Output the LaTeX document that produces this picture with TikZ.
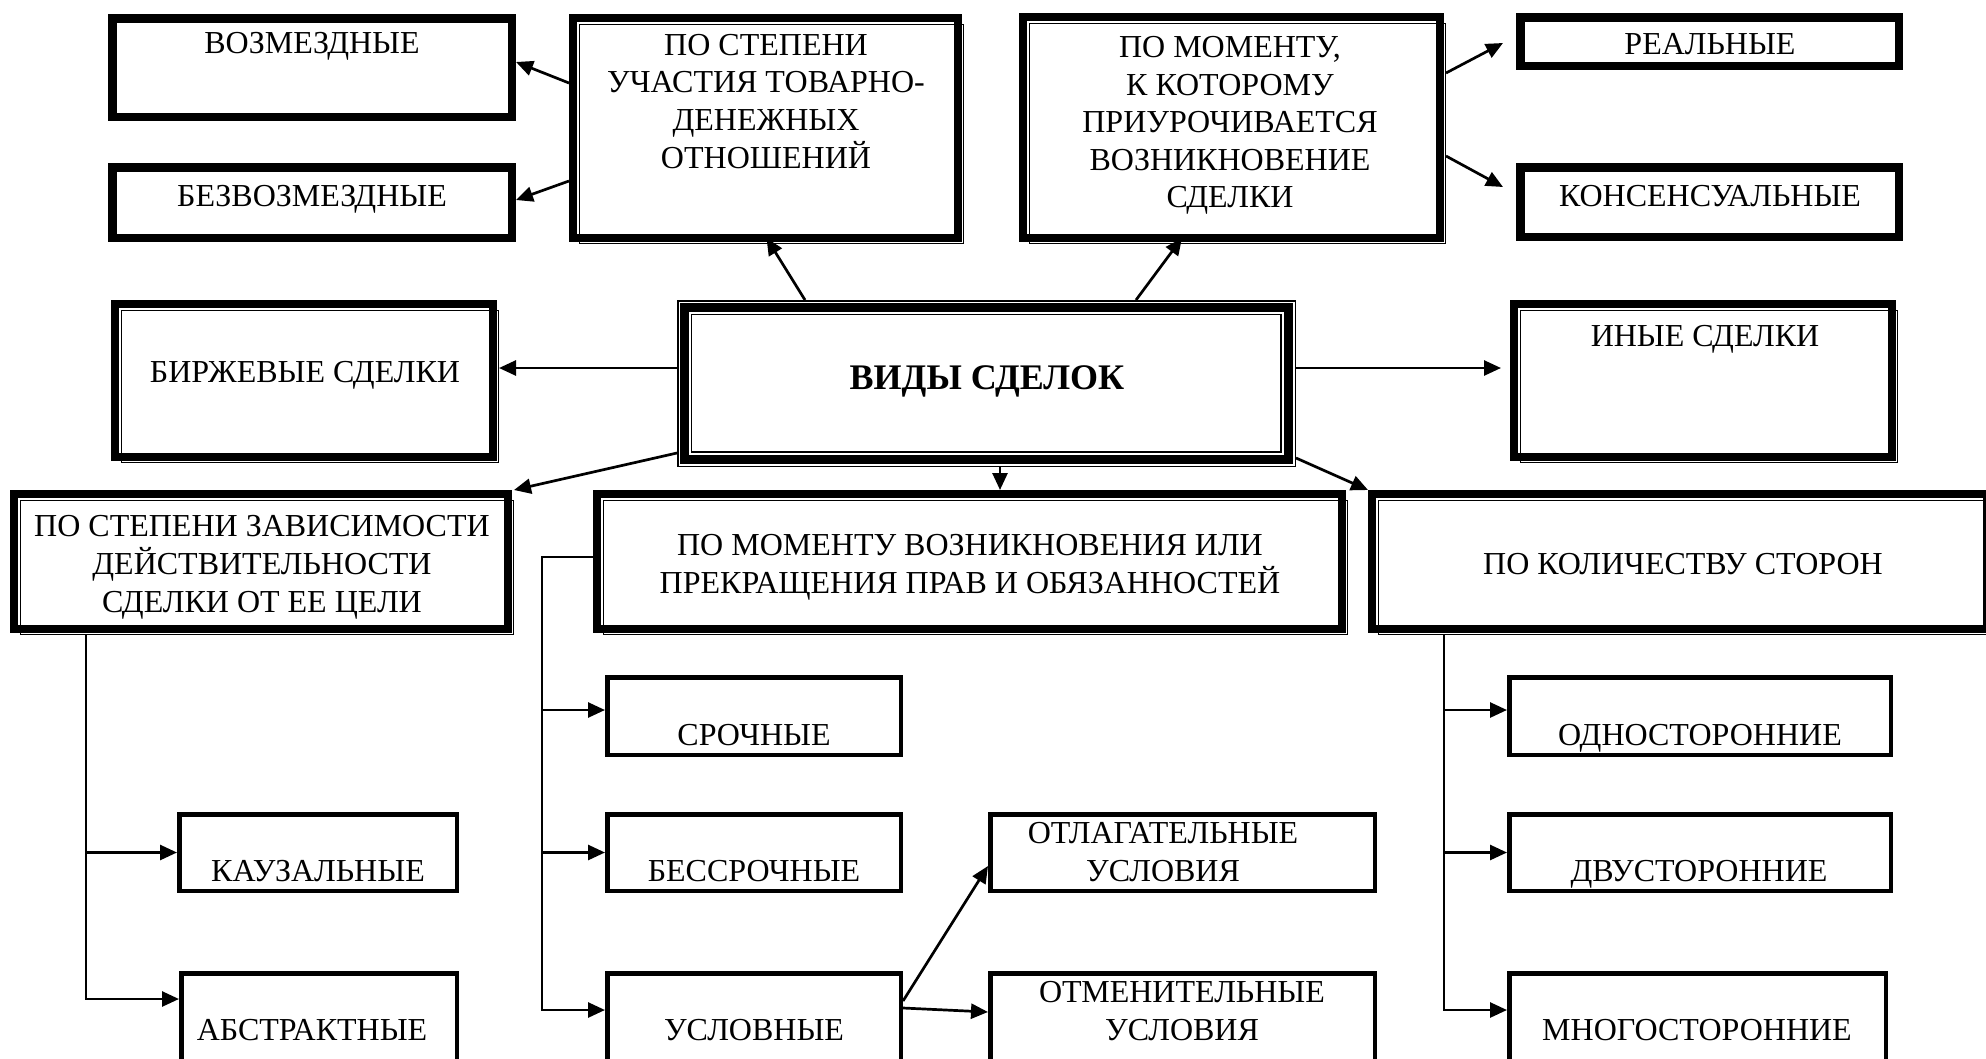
\documentclass[tikz,border=0pt]{standalone}
\usepackage{fontspec}
\setmainfont{Liberation Serif}
\usetikzlibrary{arrows.meta,fit}
\newcommand\ml[1]{\begin{tabular}[t]{@{}c@{}}#1\end{tabular}}
\newcommand\thickframe[1]{%
  \draw[thickline] ([shift={(4.25,4.25)}]#1.north west) rectangle ([shift={(-4.25,-4.25)}]#1.south east);}
\newcommand\shadowframe[1]{%
  \draw[bandline] ([shift={(4,4)}]#1.north west) rectangle ([shift={(-6.5,-6.5)}]#1.south east);
  \draw[hairline] ([shift={(10.5,10.5)}]#1.north west) rectangle ([shift={(-0.75,-0.75)}]#1.south east);}
\newcommand\mainframe[1]{%
  \draw[hairline] ([shift={(0.75,0.75)}]#1.north west) rectangle ([shift={(-0.75,-0.75)}]#1.south east);
  \draw[line width=9pt] ([shift={(7,7)}]#1.north west) rectangle ([shift={(-7.5,-7.5)}]#1.south east);
  \draw[hairline] ([shift={(14.5,14.5)}]#1.north west) rectangle ([shift={(-15,-15)}]#1.south east);}
\newcommand\thinframe[1]{%
  \draw[boxline] ([shift={(2.25,2.25)}]#1.north west) rectangle ([shift={(-2.25,-2.25)}]#1.south east);}
\begin{document}
\begin{tikzpicture}[x=1pt,y=-1pt,
  box/.style={rectangle, inner sep=0pt, outer sep=0pt, draw=none},
  thickline/.style={line width=8.5pt},
  bandline/.style={line width=8pt},
  hairline/.style={line width=1.5pt},
  boxline/.style={line width=4.5pt},
  txt/.style={anchor=base, inner sep=0pt, font=\fontsize{32}{37.5}\selectfont},
  ttl/.style={anchor=base, inner sep=0pt, font=\bfseries\fontsize{36}{40}\selectfont},
  conn/.style={line width=2.7pt},
  arr/.style={conn, -{Triangle[length=17pt,width=15pt]}}]
\useasboundingbox (0,0) rectangle (1986,1058);

% ---------- boxes ----------
\node[box, fit={(108,14) (516,121)}] (vozm) {};
\node[box, fit={(108,163) (516,242)}] (bezv) {};
\node[box, fit={(569,14) (964,244)}] (uch) {};
\node[box, fit={(1019,13) (1446,244)}] (mom) {};
\node[box, fit={(1516,13) (1903,70)}] (real) {};
\node[box, fit={(1516,163) (1903,241)}] (kons) {};
\node[box, fit={(111,300) (499,463)}] (birzh) {};
\node[box, fit={(677,300) (1296,467)}] (main) {};
\node[box, fit={(1510,300) (1898,463)}] (inye) {};
\node[box, fit={(10,490) (514,635)}] (zav) {};
\node[box, fit={(593,490) (1348,635)}] (voz) {};
\node[box, fit={(1368,490) (1993,635)}] (kol) {};
\node[box, fit={(605,675) (903,757)}] (srochn) {};
\node[box, fit={(605,812) (903,893)}] (bessr) {};
\node[box, fit={(605,971) (903,1064)}] (uslov) {};
\node[box, fit={(177,812) (459,893)}] (kauz) {};
\node[box, fit={(179,971) (459,1064)}] (abstr) {};
\node[box, fit={(988,812) (1377,893)}] (otlag) {};
\node[box, fit={(988,971) (1377,1064)}] (otmen) {};
\node[box, fit={(1507,675) (1893,757)}] (odno) {};
\node[box, fit={(1507,812) (1893,893)}] (dvu) {};
\node[box, fit={(1507,971) (1888,1064)}] (mnogo) {};

% ---------- frames ----------
\thickframe{vozm}\thickframe{bezv}\thickframe{real}\thickframe{kons}
\shadowframe{uch}\shadowframe{mom}\shadowframe{birzh}\shadowframe{inye}
\shadowframe{zav}\shadowframe{voz}\shadowframe{kol}
\mainframe{main}
\thinframe{srochn}\thinframe{bessr}\thinframe{uslov}\thinframe{kauz}
\thinframe{abstr}\thinframe{otlag}\thinframe{otmen}\thinframe{odno}
\thinframe{dvu}\thinframe{mnogo}

% ---------- texts ----------
\node[txt] (vozmT) at (312,53) {ВОЗМЕЗДНЫЕ};
\node[txt] (bezvT) at (312,206) {БЕЗВОЗМЕЗДНЫЕ};
\node[txt] (uchT) at (766,55) {\ml{ПО СТЕПЕНИ\\УЧАСТИЯ ТОВАРНО-\\ДЕНЕЖНЫХ\\ОТНОШЕНИЙ}};
\node[txt] (momT) at (1230,57.5) {\ml{ПО МОМЕНТУ,\\К КОТОРОМУ\\ПРИУРОЧИВАЕТСЯ\\ВОЗНИКНОВЕНИЕ\\СДЕЛКИ}};
\node[txt] (realT) at (1710,54.5) {РЕАЛЬНЫЕ};
\node[txt] (konsT) at (1710,206) {КОНСЕНСУАЛЬНЫЕ};
\node[txt] (birzhT) at (305,382) {БИРЖЕВЫЕ СДЕЛКИ};
\node[ttl] (mainT) at (987,389.5) {ВИДЫ СДЕЛОК};
\node[txt] (inyeT) at (1705,346.5) {ИНЫЕ СДЕЛКИ};
\node[txt] (zavT) at (262,536.5) {\ml{ПО СТЕПЕНИ ЗАВИСИМОСТИ\\ДЕЙСТВИТЕЛЬНОСТИ\\СДЕЛКИ ОТ ЕЕ ЦЕЛИ}};
\node[txt] (vozT) at (970,555.5) {\ml{ПО МОМЕНТУ ВОЗНИКНОВЕНИЯ ИЛИ\\ПРЕКРАЩЕНИЯ ПРАВ И ОБЯЗАННОСТЕЙ}};
\node[txt] (kolT) at (1683,574.5) {ПО КОЛИЧЕСТВУ СТОРОН};
\node[txt] (srochnT) at (754,745.5) {СРОЧНЫЕ};
\node[txt] (bessrT) at (754,881.5) {БЕССРОЧНЫЕ};
\node[txt] (uslovT) at (754,1040.5) {УСЛОВНЫЕ};
\node[txt] (kauzT) at (318,881.5) {КАУЗАЛЬНЫЕ};
\node[txt] (abstrT) at (312,1040.5) {АБСТРАКТНЫЕ};
\node[txt] (otlagT) at (1163,843.5) {\ml{ОТЛАГАТЕЛЬНЫЕ\\УСЛОВИЯ}};
\node[txt] (otmenT) at (1182,1002.5) {\ml{ОТМЕНИТЕЛЬНЫЕ\\УСЛОВИЯ}};
\node[txt] (odnoT) at (1700,745.5) {ОДНОСТОРОННИЕ};
\node[txt] (dvuT) at (1699,881.5) {ДВУСТОРОННИЕ};
\node[txt] (mnogoT) at (1697,1040.5) {МНОГОСТОРОННИЕ};

% ---------- connectors: top ----------
\draw[arr] (uch.west |- 0,83) -- (vozm.east |- 0,62);
\draw[arr] (uch.west |- 0,181) -- (bezv.east |- 0,200);
\draw[arr] (mom.east |- 0,73) -- ([shift={(-13,1.5)}]real.west);
\draw[arr] (mom.east |- 0,156) -- ([shift={(-13,-15)}]kons.west);
\draw[arr] ([xshift=128pt]main.north west) -- ([yshift=6pt]uch.south);
\draw[arr] ([xshift=459pt]main.north west) -- ([shift={(163,-6)}]mom.south west);

% ---------- connectors: middle ----------
\draw[arr] (main.west |- 0,368) -- (birzh.east |- 0,368);
\draw[arr] (main.east |- 0,368) -- ([shift={(-9,-13.5)}]inye.west);
\draw[arr] (main.west |- 0,453) -- (zav.north east);
\draw[arr] ([xshift=323pt]main.south west) coordinate (m1) -- (m1 |- voz.north);
\draw[arr] (main.east |- 0,458) -- (kol.north west);

% ---------- left tree ----------
\draw[arr] ([xshift=76pt]zav.south west) coordinate (zl) -- (zl |- 0,999) -- (abstr.west |- 0,999);
\draw[arr] (zl |- kauz.west) -- (kauz.west);

% ---------- middle tree ----------
\coordinate (mv) at (542,557);
\draw[arr] (voz.west |- mv) -- (mv) -- (mv |- 0,1010) -- (uslov.west |- 0,1010);
\draw[arr] (mv |- 0,710) -- (srochn.west |- 0,710);
\draw[arr] (mv |- bessr.west) -- (bessr.west);
\draw[arr] (uslov.east |- 0,1001) -- (otlag.west |- 0,866);
\draw[arr] (uslov.east |- 0,1008) -- (otmen.west |- 0,1012);

% ---------- right tree ----------
\draw[arr] ([xshift=76pt]kol.south west) coordinate (kl) -- (kl |- 0,1010) -- (mnogo.west |- 0,1010);
\draw[arr] (kl |- 0,710) -- (odno.west |- 0,710);
\draw[arr] (kl |- dvu.west) -- (dvu.west);
\end{tikzpicture}
\end{document}
